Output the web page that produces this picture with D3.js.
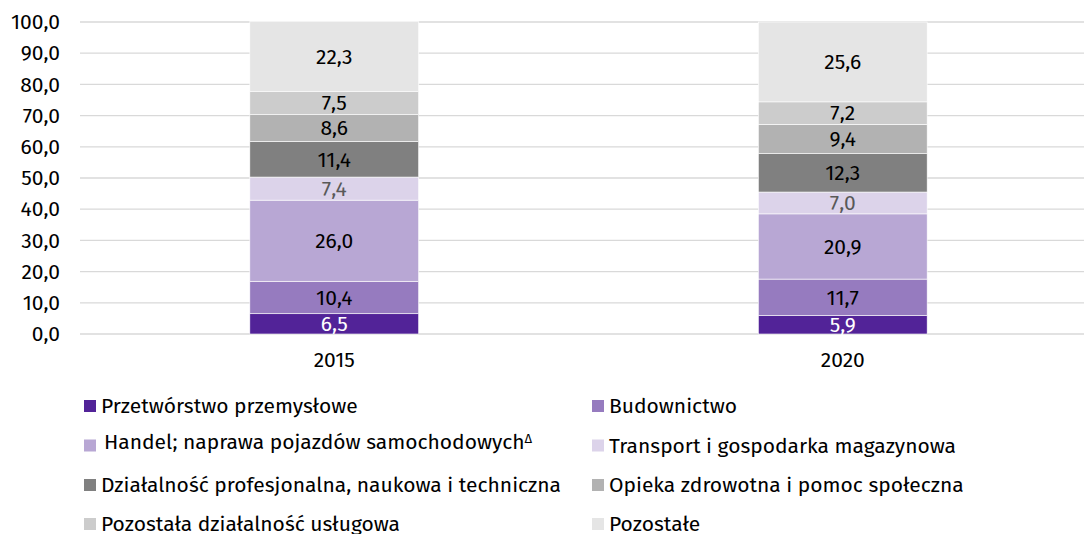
<!DOCTYPE html>
<html>
<head>
<meta charset="utf-8">
<script src="https://cdn.jsdelivr.net/npm/d3@7"></script>
<style>
  body { margin: 0; background: #fff; }
  svg { display: block; font-family: "Fira Sans", "Noto Sans", sans-serif; }
</style>
</head>
<body>
<div id="chart"></div>
<script>
// data
var years = ["2015", "2020"];
var keys = ["Przetwórstwo przemysłowe", "Budownictwo", "Handel; naprawa pojazdów samochodowych",
  "Transport i gospodarka magazynowa", "Działalność profesjonalna, naukowa i techniczna",
  "Opieka zdrowotna i pomoc społeczna", "Pozostała działalność usługowa", "Pozostałe"];
var values2015 = [6.5, 10.4, 26.0, 7.4, 11.4, 8.6, 7.5, 22.3];
var values2020 = [5.9, 11.7, 20.9, 7.0, 12.3, 9.4, 7.2, 25.6];
var yTicks = [0, 10, 20, 30, 40, 50, 60, 70, 80, 90, 100];

var colors = ["#522398", "#967bbf", "#b8a7d4", "#dcd3ea", "#808080", "#b2b2b2", "#cccccc", "#e5e5e5"];
var labelColors = ["#ffffff", "#000000", "#000000", "#595959", "#000000", "#000000", "#000000", "#000000"];
var fontSize = "21px";

var rows = [values2015, values2020].map(function(vals, i) {
  var r = { year: years[i] };
  keys.forEach(function(k, j) { r[k] = vals[j]; });
  return r;
});

var svg = d3.select("#chart").append("svg")
  .attr("width", 1084)
  .attr("height", 534);

var x = d3.scaleBand()
  .domain(years)
  .range([80, 1097])
  .paddingInner(0.668)
  .paddingOuter(0.334);

var y = d3.scaleLinear()
  .domain([0, 100])
  .range([334, 22]);

// gridlines
svg.append("g")
  .selectAll("line")
  .data(yTicks)
  .enter().append("line")
  .attr("x1", 80).attr("x2", 1084)
  .attr("y1", function(d) { return y(d); })
  .attr("y2", function(d) { return y(d); })
  .attr("stroke", "#d9d9d9")
  .attr("stroke-width", 1.3);

// y axis labels
var yAxis = svg.append("g")
  .attr("transform", "translate(80,0)")
  .call(d3.axisLeft(y).tickValues(yTicks).tickSize(0).tickPadding(20)
    .tickFormat(function(d) { return d3.format(".1f")(d).replace(".", ","); }));
yAxis.select(".domain").remove();
yAxis.selectAll("text")
  .attr("font-size", fontSize)
  .attr("font-family", "'Fira Sans', 'Noto Sans', sans-serif")
  .attr("fill", "#000");

// stacked bars
var series = d3.stack().keys(keys)(rows);

var layer = svg.append("g")
  .selectAll("g")
  .data(series)
  .enter().append("g")
  .attr("fill", function(d, i) { return colors[i]; });

layer.selectAll("rect")
  .data(function(d) { return d; })
  .enter().append("rect")
  .attr("x", function(d) { return x(d.data.year); })
  .attr("y", function(d) { return y(d[1]); })
  .attr("height", function(d) { return y(d[0]) - y(d[1]); })
  .attr("width", x.bandwidth())
  .attr("stroke", "#ffffff")
  .attr("stroke-width", 0.6);

layer.each(function(s, i) {
  d3.select(this).selectAll("text")
    .data(s)
    .enter().append("text")
    .attr("x", function(d) { return x(d.data.year) + x.bandwidth() / 2; })
    .attr("y", function(d) { return (y(d[0]) + y(d[1])) / 2; })
    .attr("dy", "0.35em")
    .attr("text-anchor", "middle")
    .attr("font-size", fontSize)
    .attr("fill", labelColors[i])
    .text(function(d) { return d3.format(".1f")(d[1] - d[0]).replace(".", ","); });
});

// x axis labels
var xAxis = svg.append("g")
  .attr("transform", "translate(0,334)")
  .call(d3.axisBottom(x).tickSize(0).tickPadding(18));
xAxis.select(".domain").remove();
xAxis.selectAll("text")
  .attr("font-size", fontSize)
  .attr("font-family", "'Fira Sans', 'Noto Sans', sans-serif")
  .attr("fill", "#000");

// legend (y = text baseline of each row)
var legendX = [84, 592];
var legendY = [413, 452.5, 492, 531];
var legend = svg.append("g")
  .selectAll("g")
  .data(keys)
  .enter().append("g")
  .attr("transform", function(d, i) {
    return "translate(" + legendX[i % 2] + "," + legendY[Math.floor(i / 2)] + ")";
  });

legend.append("rect")
  .attr("x", 0)
  .attr("y", -13)
  .attr("width", 12)
  .attr("height", 12)
  .attr("fill", function(d, i) { return colors[i]; });

var lt = legend.append("text")
  .attr("x", function(d, i) { return i === 2 ? 20 : 17; })
  .attr("y", function(d, i) { return i === 2 ? -3.5 : 0; })
  .attr("font-size", fontSize)
  .attr("fill", "#000")
  .text(function(d) { return d; });

lt.filter(function(d, i) { return i === 2; })
  .append("tspan")
  .attr("dy", "-0.5em")
  .attr("font-size", "13px")
  .text("Δ");
</script>
</body>
</html>
